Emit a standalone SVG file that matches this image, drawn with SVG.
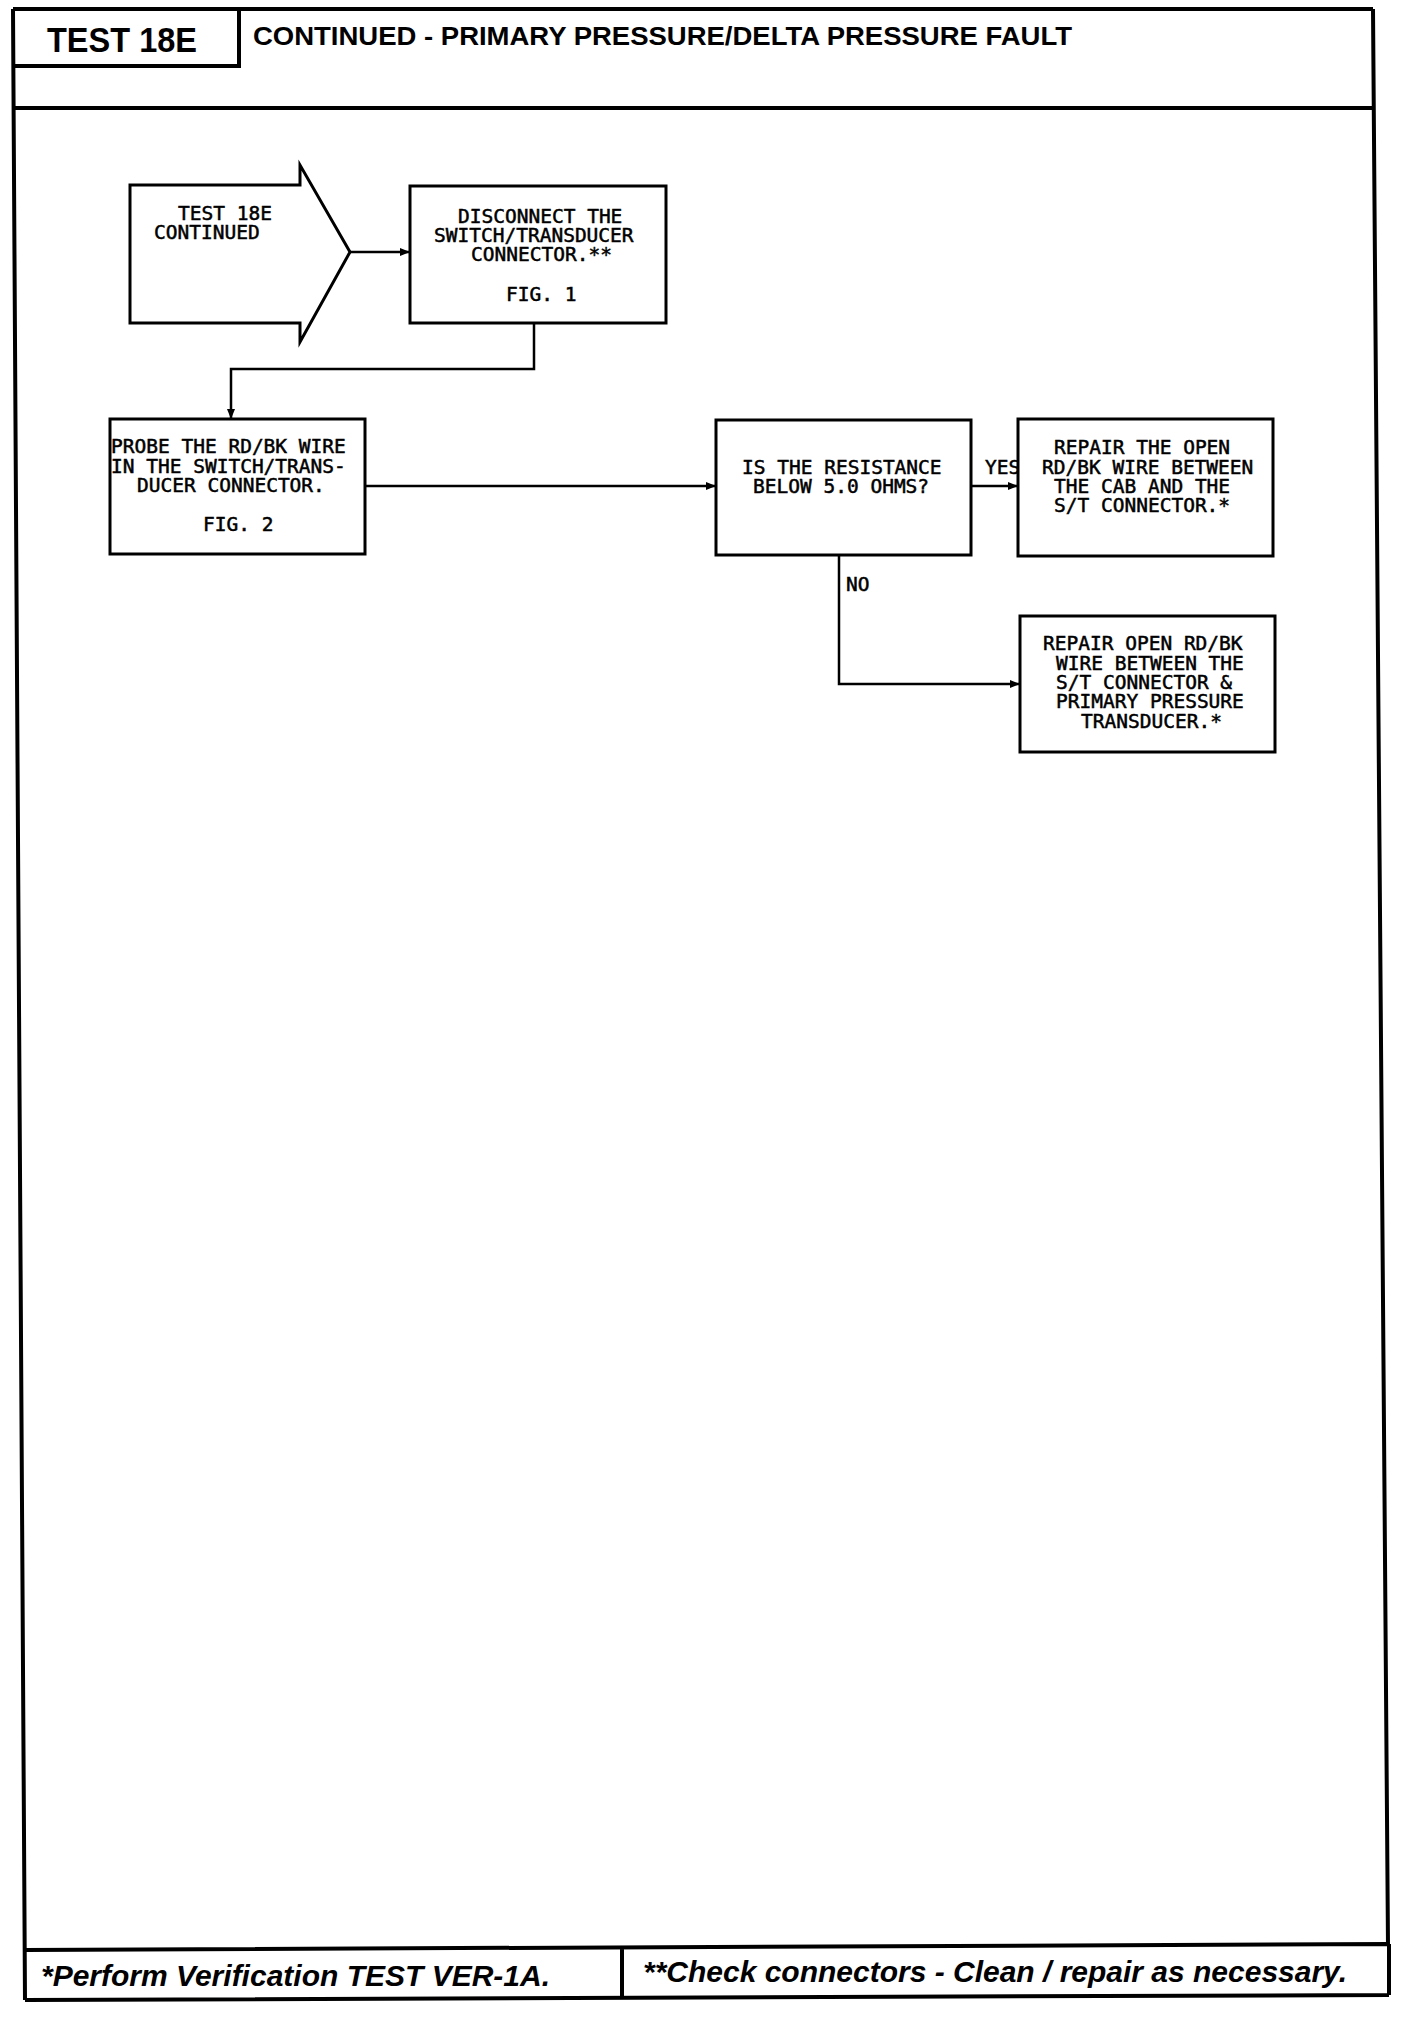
<svg xmlns="http://www.w3.org/2000/svg" width="1408" height="2022" viewBox="0 0 1408 2022">
<style>
.frame{fill:none;stroke:#000;stroke-width:4}
.box{fill:#fff;stroke:#000;stroke-width:3}
.con{fill:none;stroke:#000;stroke-width:2.5}
.t{font-family:"DejaVu Sans Mono","Liberation Mono",monospace;font-size:19.5px;fill:#000;stroke:#000;stroke-width:0.5}
.hd{font-family:"Liberation Sans",Arial,sans-serif;font-weight:bold;fill:#000}
.ft{font-family:"Liberation Sans",Arial,sans-serif;font-weight:bold;font-style:italic;font-size:30px;fill:#000}
</style>
<defs>
<marker id="ah" markerUnits="userSpaceOnUse" markerWidth="10" markerHeight="8" refX="10" refY="4" orient="auto">
<path d="M0,0 L10,4 L0,8 z" fill="#000"/>
</marker>
</defs>
<rect width="1408" height="2022" fill="#fff"/>
<g id="page-frame">
<path class="frame" d="M13,9 H1373 M13,9 L25,2000 M1373,9 L1388,1946 M13,108 H1373 M239,9 V66 H13"/>
<text class="hd" x="47" y="52" font-size="35" textLength="150" lengthAdjust="spacingAndGlyphs">TEST 18E</text>
<text class="hd" x="253" y="45" font-size="25.5" textLength="819" lengthAdjust="spacingAndGlyphs">CONTINUED - PRIMARY PRESSURE/DELTA PRESSURE FAULT</text>
</g>
<g id="footer">
<path class="frame" d="M25,1950 L1389,1944 M25,2000 L1389,1995 M1389,1944 V1995 M622,1948 V1998"/>
<text class="ft" x="41" y="1986" textLength="509" lengthAdjust="spacingAndGlyphs">*Perform Verification TEST VER-1A.</text>
<text class="ft" x="643" y="1982" textLength="704" lengthAdjust="spacingAndGlyphs">**Check connectors - Clean / repair as necessary.</text>
</g>
<g id="connectors">
<path class="con" d="M350,252 H410" marker-end="url(#ah)"/>
<path class="con" d="M534,323 V369 H231 V419" marker-end="url(#ah)"/>
<path class="con" d="M365,486 H716" marker-end="url(#ah)"/>
<path class="con" d="M971,486 H1018" marker-end="url(#ah)"/>
<path class="con" d="M839,555 V684 H1020" marker-end="url(#ah)"/>
<text class="t" x="985" y="474">YES</text>
<text class="t" x="846" y="591">NO</text>
</g>
<g id="start-arrow">
<polygon class="box" points="130,185 300,185 300,165 350,252 300,342 300,323 130,323"/>
<text class="t" x="178" y="220">TEST 18E</text>
<text class="t" x="154" y="239">CONTINUED</text>
</g>
<g id="disconnect">
<rect class="box" x="410" y="186" width="256" height="137"/>
<text class="t" x="458" y="223">DISCONNECT THE</text>
<text class="t" x="434" y="242">SWITCH/TRANSDUCER</text>
<text class="t" x="471" y="261">CONNECTOR.**</text>
<text class="t" x="506" y="301">FIG. 1</text>
</g>
<g id="probe">
<rect class="box" x="110" y="419" width="255" height="135"/>
<text class="t" x="111" y="453">PROBE THE RD/BK WIRE</text>
<text class="t" x="111" y="473">IN THE SWITCH/TRANS-</text>
<text class="t" x="137" y="492">DUCER CONNECTOR.</text>
<text class="t" x="203" y="531">FIG. 2</text>
</g>
<g id="decision">
<rect class="box" x="716" y="420" width="255" height="135"/>
<text class="t" x="742" y="474">IS THE RESISTANCE</text>
<text class="t" x="753" y="493">BELOW 5.0 OHMS?</text>
</g>
<g id="repair-cab">
<rect class="box" x="1018" y="419" width="255" height="137"/>
<text class="t" x="1054" y="454">REPAIR THE OPEN</text>
<text class="t" x="1042" y="474">RD/BK WIRE BETWEEN</text>
<text class="t" x="1054" y="493">THE CAB AND THE</text>
<text class="t" x="1054" y="512">S/T CONNECTOR.*</text>
</g>
<g id="repair-transducer">
<rect class="box" x="1020" y="616" width="255" height="136"/>
<text class="t" x="1043" y="650">REPAIR OPEN RD/BK</text>
<text class="t" x="1056" y="670">WIRE BETWEEN THE</text>
<text class="t" x="1056" y="689">S/T CONNECTOR &amp;</text>
<text class="t" x="1056" y="708">PRIMARY PRESSURE</text>
<text class="t" x="1081" y="728">TRANSDUCER.*</text>
</g>
</svg>
